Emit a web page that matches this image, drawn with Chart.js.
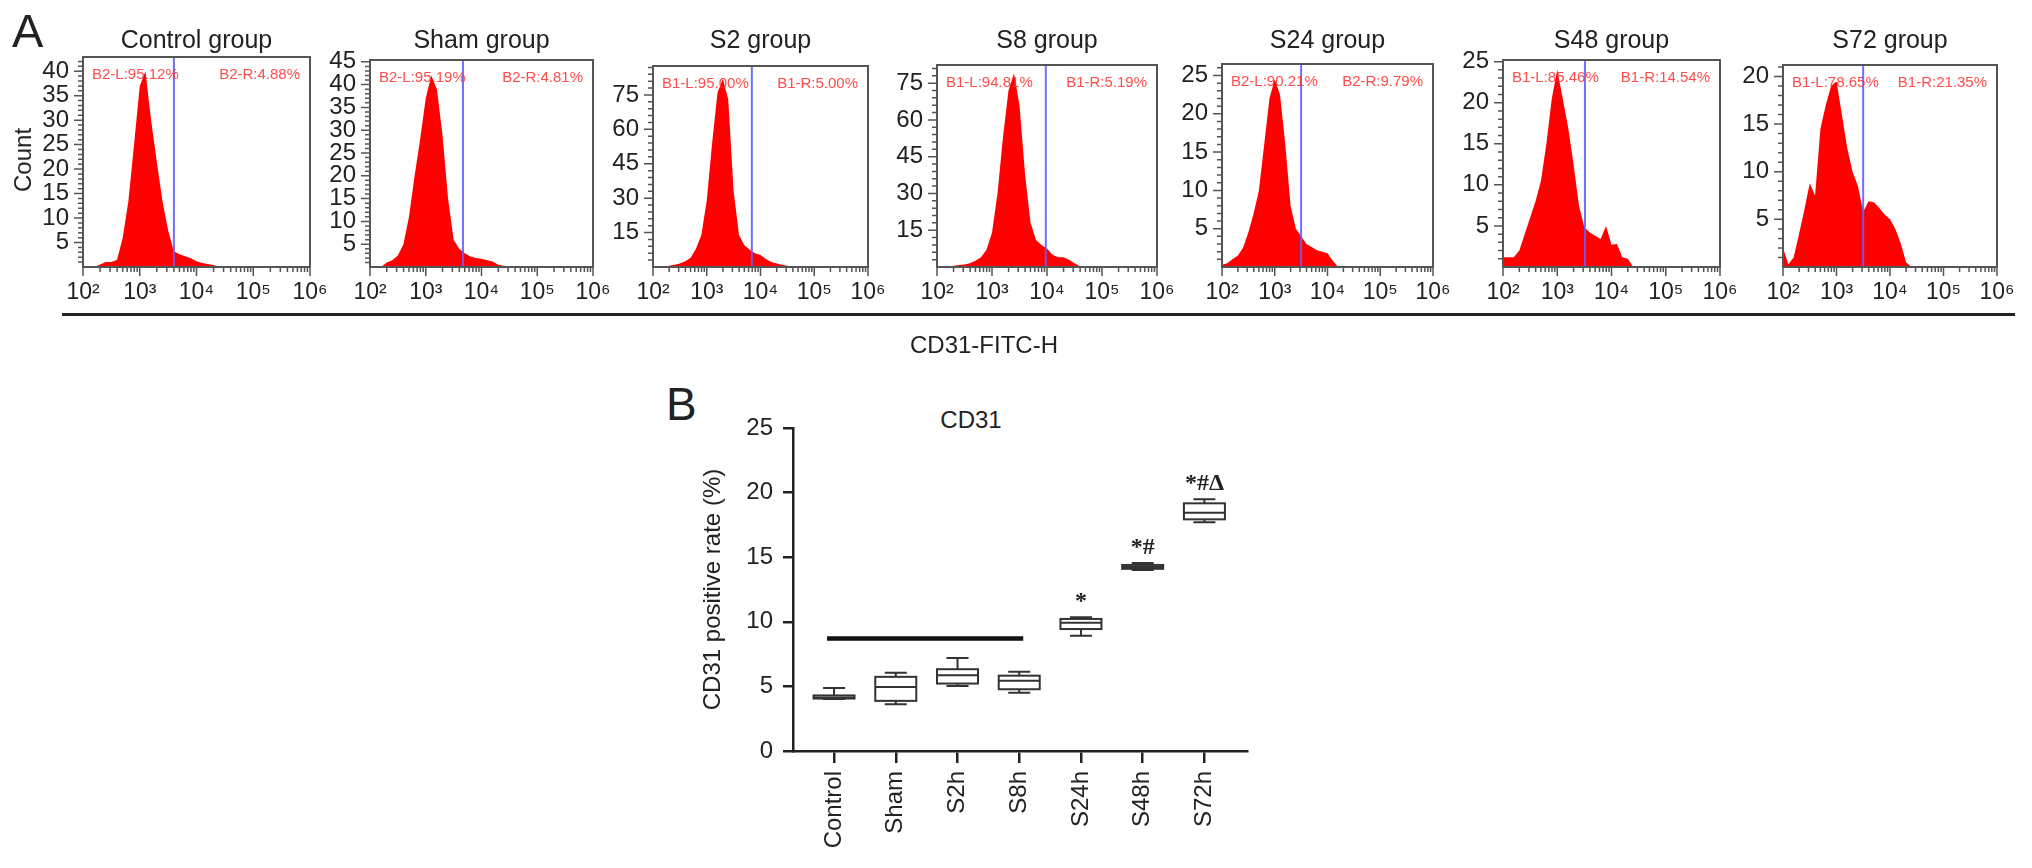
<!DOCTYPE html>
<html>
<head>
<meta charset="utf-8">
<title>CD31</title>
<script src="https://cdn.jsdelivr.net/npm/chart.js@4.4.1/dist/chart.umd.min.js"></script>
<style>
  html, body { margin: 0; padding: 0; background: #fff; }
  #page { position: relative; width: 2032px; height: 868px; overflow: hidden;
          font-family: "Liberation Sans", Arial, Helvetica, sans-serif; color: #222; }
  #page canvas { position: absolute; }
  .lbl { position: absolute; white-space: nowrap; line-height: 1; }
</style>
</head>
<body>
<div id="page"></div>
<script>
// ---- panel A data (flow histograms) ----
const groupTitles = ['Control group', 'Sham group', 'S2 group', 'S8 group', 'S24 group', 'S48 group', 'S72 group'];
const fitcBins = [100, 126, 158, 200, 251, 316, 398, 501, 631, 794, 1000, 1259, 1585, 1995, 2512,
                  3162, 3981, 5012, 6310, 7943, 10000, 12589, 15849, 19953, 25119, 31623, 39811];
const countControl = [0, 0, 0, 0.5, 1, 1, 1.5, 6, 13.5, 25, 37, 40, 30, 21.5, 13.5, 7.5, 3.2, 2.6, 2.2, 1.8, 1.2, 0.8, 0.6, 0.4, 0, 0, 0];
const countSham    = [0, 0, 0, 1, 1.5, 2.5, 5, 11, 20, 28, 37, 42, 39, 29, 15, 6, 4, 3, 2.3, 2, 1.8, 1.5, 1.2, 0.5, 0.3, 0, 0];
const countS2      = [0, 0, 0, 0.5, 1, 1.5, 2.5, 4, 8, 14, 29, 54, 76, 82, 73, 33, 14, 9.5, 7.5, 6, 5.2, 3.5, 2.2, 1.5, 1, 0.5, 0];
const countS8      = [0, 0, 0, 0.5, 0.8, 1, 1.5, 2.5, 4, 7, 14, 30, 53, 72, 79, 66, 38, 18, 11, 9, 7.5, 5, 4, 4, 3, 1.5, 0.3];
const countS24     = [0.3, 0.5, 1, 1.5, 2.5, 4.5, 7, 10, 16, 22, 24.5, 22.5, 16, 8, 5, 4, 3, 2.6, 2.2, 2, 1.8, 0.8, 0, 0, 0, 0, 0];
const countS48     = [1.2, 1.2, 1.2, 2, 4, 6, 8, 10.5, 15, 20.5, 24, 20.5, 17, 12.5, 7.5, 4.8, 4.2, 3.8, 3.4, 5, 2.7, 2.8, 1.2, 1, 0, 0, 0];
const countS72     = [2, 0.3, 1, 3.5, 6, 8.8, 7.5, 14.5, 17, 19, 19.5, 16, 12.5, 10, 8.5, 5.8, 6.9, 6.8, 6.2, 5.5, 5, 4, 2.5, 0.5, 0, 0, 0];
const countMax       = [42.9, 45.4, 87.6, 82.4, 26.5, 25.2, 21.2];
const countMajorStep = [5, 5, 15, 15, 5, 5, 5];
const countMinorStep = [1, 1, 3, 3, 1, 1, 1];
const gateValues     = [4000, 4650, 6900, 9500, 3160, 3240, 3150];
const gateLeftLabels  = ['B2-L:95.12%', 'B2-L:95.19%', 'B1-L:95.00%', 'B1-L:94.81%', 'B2-L:90.21%', 'B1-L:85.46%', 'B1-L:78.65%'];
const gateRightLabels = ['B2-R:4.88%', 'B2-R:4.81%', 'B1-R:5.00%', 'B1-R:5.19%', 'B2-R:9.79%', 'B1-R:14.54%', 'B1-R:21.35%'];

// ---- panel B data (box plot) ----
const categories = ['Control', 'Sham', 'S2h', 'S8h', 'S24h', 'S48h', 'S72h'];
const boxMin    = [4.02, 3.62, 5.04, 4.51, 8.92, 14.0, 17.7];
const boxQ1     = [4.06, 3.88, 5.22, 4.78, 9.44, 14.1, 17.93];
const boxMedian = [4.15, 4.96, 5.87, 5.44, 9.93, 14.25, 18.45];
const boxQ3     = [4.3, 5.74, 6.33, 5.83, 10.22, 14.4, 19.17];
const boxMax    = [4.88, 6.05, 7.2, 6.14, 10.35, 14.56, 19.48];
const sigMarks  = ['', '', '', '', '*', '*#', '*#\u0394'];
const sigBarFrom = 0, sigBarTo = 3, sigBarY = 8.7;

// ---- layout (pixel boxes of the histogram plots) ----
const histBoxes = [
  {left: 83, right: 310, top: 57}, {left: 370, right: 593, top: 60}, {left: 653, right: 868, top: 66},
  {left: 937, right: 1157, top: 65}, {left: 1222, right: 1433, top: 64}, {left: 1503, right: 1720, top: 60},
  {left: 1783, right: 1997, top: 65}
];
const histBottom = 267;
const FAMILY = '"Liberation Sans", Arial, Helvetica, sans-serif';

const page = document.getElementById('page');
function addText(text, css) {
  const d = document.createElement('div');
  d.className = 'lbl';
  d.textContent = text;
  Object.assign(d.style, css);
  page.appendChild(d);
  return d;
}

const sup = {2: '\u00b2', 3: '\u00b3', 4: '\u2074', 5: '\u2075', 6: '\u2076'};
function decadeOf(v) {
  const e = Math.round(Math.log10(v));
  return Math.abs(v / Math.pow(10, e) - 1) < 1e-6 ? e : null;
}
function isWholeSignificand(v) {
  const m = v / Math.pow(10, Math.floor(Math.log10(v) + 1e-9));
  return Math.abs(m - Math.round(m)) < 1e-6;
}

// frame, gate, gate labels and tick marks of one histogram
const histDecor = {
  id: 'histDecor',
  afterDatasetsDraw(chart, args, o) {
    const {ctx, chartArea: a, scales: {x, y}} = chart;
    ctx.save();
    const gx = x.getPixelForValue(o.gate);
    ctx.strokeStyle = 'rgba(95,95,255,0.9)';
    ctx.lineWidth = 2;
    ctx.beginPath(); ctx.moveTo(gx, a.bottom); ctx.lineTo(gx, a.top); ctx.stroke();

    ctx.fillStyle = 'rgba(255,45,45,0.85)';
    ctx.font = '15px ' + FAMILY;
    ctx.textBaseline = 'alphabetic';
    ctx.textAlign = 'left';  ctx.fillText(o.leftText, a.left + 9, a.top + 22);
    ctx.textAlign = 'right'; ctx.fillText(o.rightText, a.right - 10, a.top + 22);

    ctx.strokeStyle = '#555';
    ctx.lineWidth = 2;
    ctx.strokeRect(a.left, a.top, a.right - a.left, a.bottom - a.top);

    ctx.lineWidth = 1.5;
    ctx.beginPath();
    x.ticks.forEach(t => {
      const px = x.getPixelForValue(t.value);
      const len = decadeOf(t.value) === null ? 5 : 9;
      ctx.moveTo(px, a.bottom); ctx.lineTo(px, a.bottom + len);
    });
    y.ticks.forEach(t => {
      if (t.value <= 0) return;
      const py = y.getPixelForValue(t.value);
      const len = t.value % o.major === 0 ? 9 : 5;
      ctx.moveTo(a.left - len, py); ctx.lineTo(a.left, py);
    });
    ctx.stroke();
    ctx.restore();
  }
};

const histCounts = [countControl, countSham, countS2, countS8, countS24, countS48, countS72];
histCounts.forEach((counts, i) => {
  const b = histBoxes[i];
  const padL = 80, padR = 40, H = 330;
  const cv = document.createElement('canvas');
  cv.width = (b.right - b.left) + padL + padR;
  cv.height = H;
  cv.style.left = (b.left - padL) + 'px';
  cv.style.top = '0px';
  page.appendChild(cv);

  new Chart(cv, {
    type: 'line',
    data: {
      datasets: [{
        data: fitcBins.map((x, k) => ({x: x, y: counts[k]})),
        fill: 'origin',
        backgroundColor: '#ff0000',
        borderWidth: 0,
        pointRadius: 0,
        tension: 0
      }]
    },
    options: {
      responsive: false,
      animation: false,
      events: [],
      layout: {padding: {top: b.top, right: padR, left: 0, bottom: 0}},
      plugins: {
        legend: {display: false},
        tooltip: {enabled: false},
        histDecor: {gate: gateValues[i], leftText: gateLeftLabels[i], rightText: gateRightLabels[i], major: countMajorStep[i]}
      },
      scales: {
        x: {
          type: 'logarithmic', min: 100, max: 1000000,
          grid: {display: false, drawTicks: false},
          border: {display: false},
          afterBuildTicks: s => { s.ticks = s.ticks.filter(t => isWholeSignificand(t.value)); },
          afterFit: s => { s.height = H - histBottom; },
          ticks: {
            autoSkip: false, maxRotation: 0, minRotation: 0, padding: 12, color: '#222',
            font: {size: 23, family: FAMILY},
            callback: v => { const e = decadeOf(v); return e === null ? '' : '10' + sup[e]; }
          }
        },
        y: {
          min: 0, max: countMax[i],
          grid: {display: false, drawTicks: false},
          border: {display: false},
          afterBuildTicks: s => {
            // one tick per minor step, all the way up to the top of the axis
            const st = countMinorStep[i];
            s.ticks = [];
            for (let v = 0; v <= s.max + 1e-9; v += st) s.ticks.push({value: v});
          },
          afterFit: s => { s.width = padL; },
          ticks: {
            stepSize: countMinorStep[i], autoSkip: false, padding: 14, color: '#222',
            font: {size: 24, family: FAMILY},
            callback: v => (v > 0 && v % countMajorStep[i] === 0) ? String(v) : ''
          }
        }
      }
    },
    plugins: [histDecor]
  });

  addText(groupTitles[i], {left: ((b.left + b.right) / 2) + 'px', top: '27px', fontSize: '25px', transform: 'translateX(-50%)'});
});

addText('A', {left: '12px', top: '7px', fontSize: '47px'});
addText('Count', {left: '23px', top: '160px', fontSize: '24px', transform: 'translate(-50%,-50%) rotate(-90deg)'});

const rule = document.createElement('div');
Object.assign(rule.style, {position: 'absolute', left: '62px', width: '1953px', top: '313px', height: '3px', background: '#222'});
page.appendChild(rule);
addText('CD31-FITC-H', {left: '984px', top: '333px', fontSize: '24px', transform: 'translateX(-50%)'});

// ---- panel B ----
addText('B', {left: '666px', top: '381px', fontSize: '46px'});
addText('CD31', {left: '971px', top: '408px', fontSize: '24px', transform: 'translateX(-50%)'});

const boxPlot = {
  id: 'boxPlot',
  afterDatasetsDraw(chart) {
    const {ctx, scales: {x, y}} = chart;
    ctx.save();
    ctx.strokeStyle = '#333';
    ctx.lineWidth = 2;
    const half = 20.5, cap = 11;
    categories.forEach((c, i) => {
      const cx = x.getPixelForValue(i);
      const yMin = y.getPixelForValue(boxMin[i]);
      const yQ1 = y.getPixelForValue(boxQ1[i]);
      const yMed = y.getPixelForValue(boxMedian[i]);
      const yQ3 = y.getPixelForValue(boxQ3[i]);
      const yMax = y.getPixelForValue(boxMax[i]);
      ctx.beginPath();
      ctx.moveTo(cx, yMax); ctx.lineTo(cx, yQ3);
      ctx.moveTo(cx, yQ1); ctx.lineTo(cx, yMin);
      ctx.moveTo(cx - cap, yMax); ctx.lineTo(cx + cap, yMax);
      ctx.moveTo(cx - cap, yMin); ctx.lineTo(cx + cap, yMin);
      ctx.stroke();
      ctx.fillStyle = '#fff';
      ctx.fillRect(cx - half, yQ3, half * 2, yQ1 - yQ3);
      ctx.strokeRect(cx - half, yQ3, half * 2, yQ1 - yQ3);
      ctx.beginPath();
      ctx.moveTo(cx - half, yMed); ctx.lineTo(cx + half, yMed);
      ctx.stroke();
      if (sigMarks[i]) {
        ctx.fillStyle = '#222';
        ctx.font = 'bold 24px "Liberation Serif", "Times New Roman", serif';
        ctx.textAlign = 'center';
        ctx.textBaseline = 'alphabetic';
        ctx.fillText(sigMarks[i], cx, yMax - 9);
      }
    });
    ctx.strokeStyle = '#111';
    ctx.lineWidth = 4.5;
    const by = y.getPixelForValue(sigBarY);
    ctx.beginPath();
    ctx.moveTo(x.getPixelForValue(sigBarFrom) - 7, by);
    ctx.lineTo(x.getPixelForValue(sigBarTo) + 4, by);
    ctx.stroke();
    ctx.restore();
  }
};

const cvB = document.createElement('canvas');
cvB.width = 600;
cvB.height = 488;
cvB.style.left = '693px';
cvB.style.top = '380px';
page.appendChild(cvB);

new Chart(cvB, {
  type: 'scatter',
  data: {datasets: [{data: categories.map((c, i) => ({x: i, y: boxMedian[i]})), pointRadius: 0}]},
  options: {
    responsive: false,
    animation: false,
    events: [],
    layout: {padding: {top: 48, right: 46, left: 0, bottom: 0}},
    plugins: {legend: {display: false}, tooltip: {enabled: false}},
    scales: {
      x: {
        type: 'linear', min: -0.665, max: 6.69,
        afterBuildTicks: s => { s.ticks = categories.map((c, i) => ({value: i})); },
        afterFit: s => { s.height = 117; },
        grid: {drawOnChartArea: false, drawTicks: true, tickLength: 12, color: '#222', lineWidth: 2.5},
        border: {display: true, color: '#222', width: 2.5},
        ticks: {
          autoSkip: false, minRotation: 90, maxRotation: 90, padding: 8, color: '#222',
          font: {size: 24, family: FAMILY},
          callback: v => categories[v]
        }
      },
      y: {
        min: 0, max: 25,
        afterFit: s => { s.width = 100; },
        grid: {drawOnChartArea: false, drawTicks: true, tickLength: 10, color: '#222', lineWidth: 2.5},
        border: {display: true, color: '#222', width: 2.5},
        ticks: {stepSize: 5, padding: 10, color: '#222', font: {size: 24, family: FAMILY}},
        title: {display: true, text: 'CD31 positive rate (%)', color: '#222', font: {size: 24, family: FAMILY}, padding: {top: 6, bottom: 0}}
      }
    }
  },
  plugins: [boxPlot]
});
</script>
</body>
</html>
